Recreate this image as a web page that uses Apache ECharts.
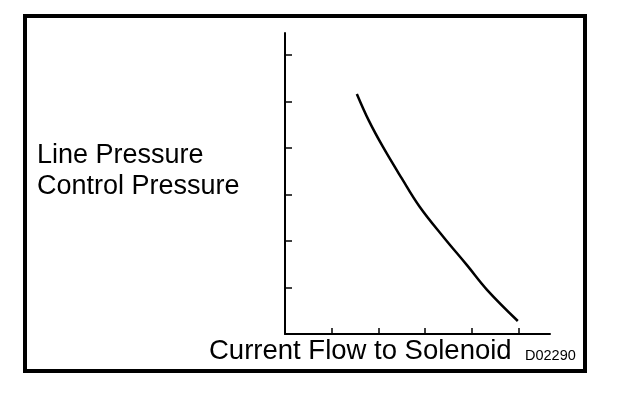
<!DOCTYPE html>
<html>
<head>
<meta charset="utf-8">
<script src="https://cdn.jsdelivr.net/npm/echarts@6/dist/echarts.min.js"></script>
<style>html,body{margin:0;padding:0;background:#fff}#c{width:624px;height:394px}</style>
</head>
<body>
<div id="c"></div>
<script>
// Data (arbitrary units)
const currentFlow = [1.54, 1.80, 2.10, 2.50, 2.89, 3.40, 3.90, 4.33, 4.99];
const pressure    = [5.16, 4.58, 4.02, 3.35, 2.73, 2.08, 1.48, 0.95, 0.28];
const xTicks = [1, 2, 3, 4, 5];
const yTicks = [1, 2, 3, 4, 5, 6];
const yLabelLines = ['Line Pressure', 'Control Pressure'];
const xLabel = 'Current Flow to Solenoid';
const figCode = 'D02290';

const chart = echarts.init(document.getElementById('c'), null, {renderer: 'canvas'});
const font = '"Liberation Sans", Arial, sans-serif';
chart.setOption({
  animation: false,
  backgroundColor: '#fff',
  grid: {left: 285, top: 33, right: 74, bottom: 60},
  xAxis: {
    type: 'value', min: 0, max: 5.68,
    axisLine: {show: true, lineStyle: {color: '#000', width: 2}},
    axisTick: {show: true, inside: true, length: 6, customValues: xTicks, lineStyle: {color: '#000', width: 1.5}},
    axisLabel: {show: false},
    splitLine: {show: false}
  },
  yAxis: {
    type: 'value', min: 0, max: 6.47,
    axisLine: {show: true, lineStyle: {color: '#000', width: 2}},
    axisTick: {show: true, inside: true, length: 7, customValues: yTicks, lineStyle: {color: '#000', width: 1.5}},
    axisLabel: {show: false},
    splitLine: {show: false}
  },
  series: [{
    type: 'line',
    data: currentFlow.map((x, i) => [x, pressure[i]]),
    smooth: 0.4,
    showSymbol: false,
    lineStyle: {color: '#000', width: 2.5}
  }],
  graphic: [
    {type: 'rect', shape: {x: 25, y: 16, width: 560, height: 355},
     style: {fill: 'none', stroke: '#000', lineWidth: 4}},
    {type: 'text', left: 37, top: 140,
     style: {text: yLabelLines.join('\n'), font: '27px ' + font, fill: '#000', lineHeight: 31}},
    {type: 'text', left: 209, top: 337,
     style: {text: xLabel, font: '27.5px ' + font, fill: '#000'}},
    {type: 'text', left: 525, top: 348,
     style: {text: figCode, font: '14.5px ' + font, fill: '#000'}}
  ]
});
</script>
</body>
</html>
